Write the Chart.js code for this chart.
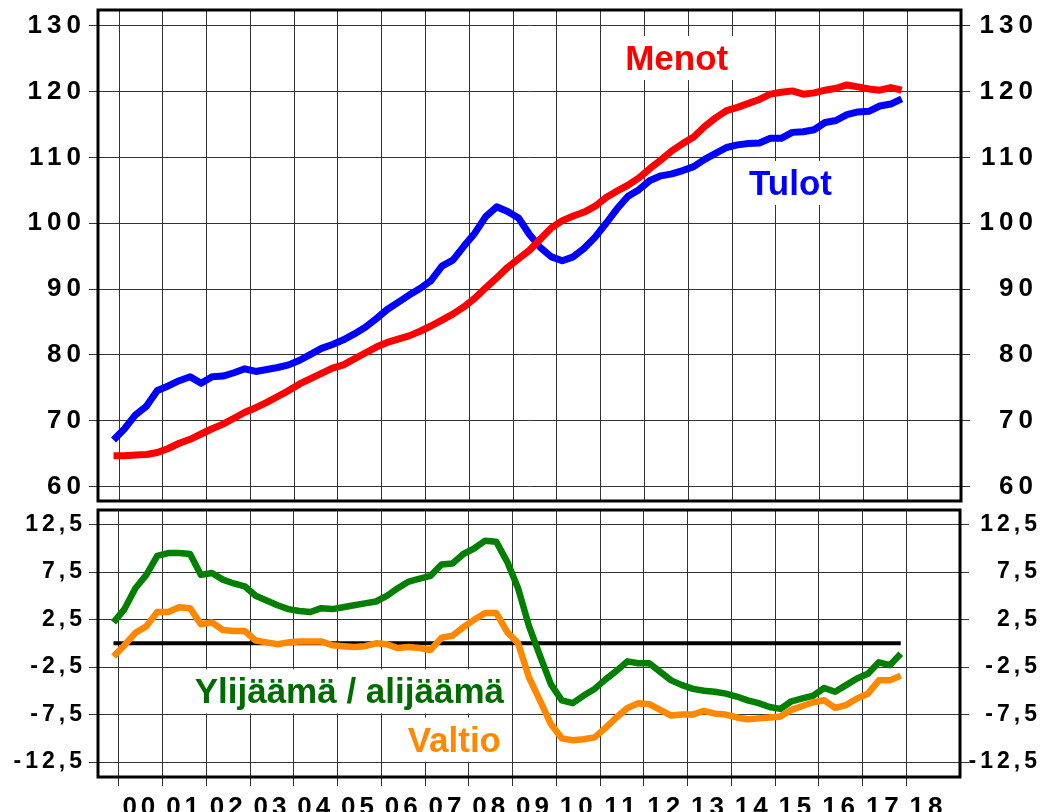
<!DOCTYPE html>
<html><head><meta charset="utf-8">
<script src="https://cdn.jsdelivr.net/npm/chart.js@4.4.1/dist/chart.umd.min.js"></script>
<style>
html,body{margin:0;padding:0;background:#fff;}
#wrap{position:relative;width:1048px;height:812px;overflow:hidden;background:#fff;}
#c1{position:absolute;left:0;top:0;width:1048px;height:505px;}
#c2{position:absolute;left:0;top:505px;width:1048px;height:307px;}
</style></head><body>
<div id="wrap"><canvas id="c1" width="1048" height="505"></canvas><canvas id="c2" width="1048" height="307"></canvas></div>
<script>
// ---- categories: quarters 1999Q4 .. 2017Q4 ----
const quarters = [];
for (let y = 1999, q = 4; y < 2018; ) { quarters.push(y + 'Q' + q); q++; if (q > 4) { q = 1; y++; } }

// ---- tick labels ----
const yearLabels = ['00','01','02','03','04','05','06','07','08','09','10','11','12','13','14','15','16','17','18'];
const firstYear = 2000;
const topTicks = [60,70,80,90,100,110,120,130];
const bottomTicks = [-12.5,-10,-7.5,-5,-2.5,0,2.5,5,7.5,10,12.5];

// ---- series ----
const menot = [64.7,64.7,64.8,64.9,65.2,65.8,66.6,67.2,68.0,68.8,69.5,70.4,71.3,72.0,72.8,73.7,74.6,75.6,76.4,77.2,78.0,78.5,79.4,80.3,81.2,81.9,82.4,82.9,83.6,84.4,85.3,86.2,87.3,88.6,90.2,91.7,93.3,94.6,95.9,97.6,99.3,100.4,101.1,101.7,102.6,103.9,104.9,105.8,106.9,108.3,109.6,111.0,112.1,113.1,114.7,116.0,117.1,117.6,118.2,118.8,119.6,119.9,120.1,119.6,119.8,120.2,120.5,121.0,120.7,120.4,120.2,120.6,120.2];
const tulot = [67.1,68.8,70.9,72.2,74.6,75.3,76.1,76.7,75.7,76.7,76.8,77.3,77.9,77.5,77.8,78.1,78.5,79.2,80.1,81.0,81.6,82.3,83.2,84.2,85.5,86.9,88.0,89.1,90.1,91.3,93.5,94.4,96.5,98.5,101.0,102.5,101.8,100.8,98.3,96.3,94.9,94.3,94.9,96.2,97.9,100.0,102.2,104.1,105.1,106.5,107.2,107.5,108.0,108.6,109.7,110.6,111.5,111.9,112.1,112.2,112.9,112.9,113.8,113.9,114.2,115.3,115.6,116.5,116.9,117.0,117.8,118.1,118.9];
const ylijaama = [2.2,3.6,5.8,7.2,9.2,9.5,9.5,9.4,7.2,7.4,6.7,6.3,6.0,5.0,4.5,4.0,3.6,3.4,3.3,3.7,3.6,3.8,4.0,4.2,4.4,5.0,5.8,6.5,6.8,7.1,8.3,8.4,9.4,10.0,10.8,10.7,8.6,5.8,1.8,-1.3,-4.3,-6.0,-6.3,-5.5,-4.8,-3.8,-2.9,-1.9,-2.1,-2.1,-3.0,-3.9,-4.4,-4.8,-5.0,-5.1,-5.3,-5.6,-6.0,-6.3,-6.7,-6.9,-6.1,-5.8,-5.5,-4.7,-5.1,-4.4,-3.7,-3.2,-2.0,-2.3,-1.1];
const valtio = [-1.4,-0.2,1.1,1.8,3.3,3.3,3.8,3.7,2.0,2.2,1.4,1.3,1.3,0.3,0.1,-0.1,0.1,0.2,0.2,0.2,-0.2,-0.3,-0.4,-0.3,0.0,-0.1,-0.5,-0.4,-0.5,-0.7,0.6,0.8,1.7,2.5,3.2,3.2,1.2,0.0,-3.6,-6.0,-8.5,-10.0,-10.2,-10.1,-9.9,-8.9,-7.8,-6.8,-6.3,-6.4,-7.0,-7.6,-7.5,-7.5,-7.1,-7.4,-7.5,-7.8,-8.0,-7.9,-7.8,-7.7,-7.0,-6.6,-6.2,-6.0,-6.8,-6.5,-5.8,-5.3,-3.9,-3.9,-3.4];
const zeroLine = quarters.map(() => 0);

// quarter label -> position on a year axis (middle of the quarter)
const qx = s => { const y = +s.slice(0,4), q = +s.slice(5); return y + (q - 0.5) / 4; };
const pts = arr => arr.map((v, i) => ({ x: qx(quarters[i]), y: v }));

const FONT = '"Liberation Sans", Arial, Helvetica, sans-serif';
const X_MIN = 1999.52, X_MAX = 2019.23;
const GRID = '#333';

function fitter(opts) {
  return function (s) {
    if (opts.width !== undefined) s.width = opts.width;
    if (opts.height !== undefined) s.height = opts.height;
    s.paddingTop = 0; s.paddingBottom = 0; s.paddingLeft = 0; s.paddingRight = 0;
    if (opts.spacing && !s._spPatched) {
      const orig = s.drawLabels;
      s.drawLabels = function (area) {
        const c = this.ctx; c.save(); c.letterSpacing = opts.spacing; orig.call(this, area); c.restore();
      };
      s._spPatched = true;
    }
  };
}

const frame = {
  id: 'frame',
  afterDraw(chart) {
    const a = chart.chartArea, c = chart.ctx;
    c.save(); c.lineWidth = 3; c.strokeStyle = '#000';
    c.strokeRect(a.left, a.top, a.right - a.left, a.bottom - a.top);
    c.restore();
  }
};
const notes = {
  id: 'notes',
  beforeDatasetsDraw(chart, args, opts) {
    const c = chart.ctx;
    c.save();
    c.font = 'bold 35px ' + FONT;
    c.letterSpacing = '0px';
    c.textAlign = 'left'; c.textBaseline = 'alphabetic';
    (opts.items || []).forEach(it => {
      const px = chart.scales.x.getPixelForValue(it.x);
      const py = chart.scales.y.getPixelForValue(it.y);
      const w = c.measureText(it.text).width;
      c.fillStyle = '#fff';
      c.fillRect(px - 6, py - 34, w + 12, 44);
      c.fillStyle = it.color;
      c.fillText(it.text, px, py);
    });
    c.restore();
  }
};

const lineDs = (label, data, color, w) => ({
  label, data: pts(data), borderColor: color, backgroundColor: color, borderWidth: w,
  pointRadius: 0, tension: 0, fill: false, borderJoinStyle: 'round', borderCapStyle: 'butt'
});

// ---------- top panel ----------
new Chart(document.getElementById('c1'), {
  type: 'line',
  data: { datasets: [ lineDs('Menot', menot, '#ff0000', 7), lineDs('Tulot', tulot, '#0000ff', 7) ] },
  options: {
    responsive: false, animation: false, devicePixelRatio: 1,
    layout: { autoPadding: false, padding: { top: 10, bottom: 4, left: 0, right: 10 } },
    plugins: { legend: { display: false }, tooltip: { enabled: false },
      notes: { items: [
        { text: 'Menot', x: 2011.56, y: 123.27, color: '#ff0000' },
        { text: 'Tulot', x: 2014.39, y: 104.29, color: '#0000ff' }
      ] } },
    scales: {
      x: { type: 'linear', min: X_MIN, max: X_MAX,
        afterBuildTicks: s => { s.ticks = yearLabels.map((l, i) => ({ value: firstYear + i })); },
        grid: { color: GRID, lineWidth: 1, drawTicks: false }, border: { display: false },
        ticks: { display: false }, afterFit: fitter({ height: 0 }) },
      y: { position: 'left', min: 57.83, max: 132.38,
        afterBuildTicks: s => { s.ticks = topTicks.map(v => ({ value: v })); },
        grid: { color: GRID, lineWidth: 1, tickLength: 9 }, border: { display: false },
        ticks: { padding: 3, color: '#000', font: { family: FONT, weight: 'bold', size: 26 }, callback: v => String(v) },
        afterFit: fitter({ width: 98, spacing: '5px' }) },
      y2: { position: 'right', min: 57.83, max: 132.38,
        afterBuildTicks: s => { s.ticks = topTicks.map(v => ({ value: v })); },
        grid: { color: GRID, lineWidth: 1, tickLength: 9, drawOnChartArea: false }, border: { display: false },
        ticks: { crossAlign: 'far', padding: 2, color: '#000', font: { family: FONT, weight: 'bold', size: 26 }, callback: v => String(v) },
        afterFit: fitter({ width: 77, spacing: '5px' }) }
    }
  },
  plugins: [frame, notes]
});

// ---------- bottom panel ----------
const isHalf = v => Math.abs(v - Math.floor(v) - 0.5) < 0.01;
const fmt = v => (v % 5 === 0) ? '' : v.toFixed(1).replace('.', ',');
new Chart(document.getElementById('c2'), {
  type: 'line',
  data: { datasets: [
    lineDs('Ylijäämä / alijäämä', ylijaama, '#007f00', 6.5),
    lineDs('Valtio', valtio, '#ff8800', 6.5),
    lineDs('0', zeroLine, '#000000', 4)
  ] },
  options: {
    responsive: false, animation: false, devicePixelRatio: 1,
    layout: { autoPadding: false, padding: { top: 5, bottom: 0, left: 0, right: 7 } },
    plugins: { legend: { display: false }, tooltip: { enabled: false },
      notes: { items: [
        { text: 'Ylijäämä / alijäämä', x: 2001.73, y: -6.32, color: '#006b00' },
        { text: 'Valtio', x: 2006.60, y: -11.41, color: '#ff8800' }
      ] } },
    scales: {
      x: { type: 'linear', min: X_MIN, max: X_MAX,
        afterBuildTicks: s => { const t = []; yearLabels.forEach((l, i) => { t.push({ value: firstYear + i }); t.push({ value: firstYear + i + 0.5 }); }); s.ticks = t; },
        grid: { color: c => (c.tick && isHalf(c.tick.value)) ? 'rgba(0,0,0,0)' : GRID, lineWidth: 1, tickLength: 9 },
        border: { display: false },
        ticks: { autoSkip: false, maxRotation: 0, minRotation: 0, padding: 6, color: '#000',
          font: { family: FONT, weight: 'bold', size: 26 },
          callback: v => isHalf(v) ? yearLabels[Math.floor(v) - firstYear] : '' },
        afterFit: fitter({ height: 35, spacing: '4px' }) },
      y: { position: 'left', min: -14.07, max: 14.03,
        afterBuildTicks: s => { s.ticks = bottomTicks.map(v => ({ value: v })); },
        grid: { color: GRID, lineWidth: 1, tickLength: 9 }, border: { display: false },
        ticks: { padding: 3, color: '#000', font: { family: FONT, weight: 'bold', size: 23 }, callback: fmt },
        afterFit: fitter({ width: 98, spacing: '4px' }) },
      y2: { position: 'right', min: -14.07, max: 14.03,
        afterBuildTicks: s => { s.ticks = bottomTicks.map(v => ({ value: v })); },
        grid: { color: GRID, lineWidth: 1, tickLength: 9, drawOnChartArea: false }, border: { display: false },
        ticks: { crossAlign: 'far', padding: 3, color: '#000', font: { family: FONT, weight: 'bold', size: 23 }, callback: fmt },
        afterFit: fitter({ width: 81, spacing: '4px' }) }
    }
  },
  plugins: [frame, notes]
});
</script>
</body></html>
